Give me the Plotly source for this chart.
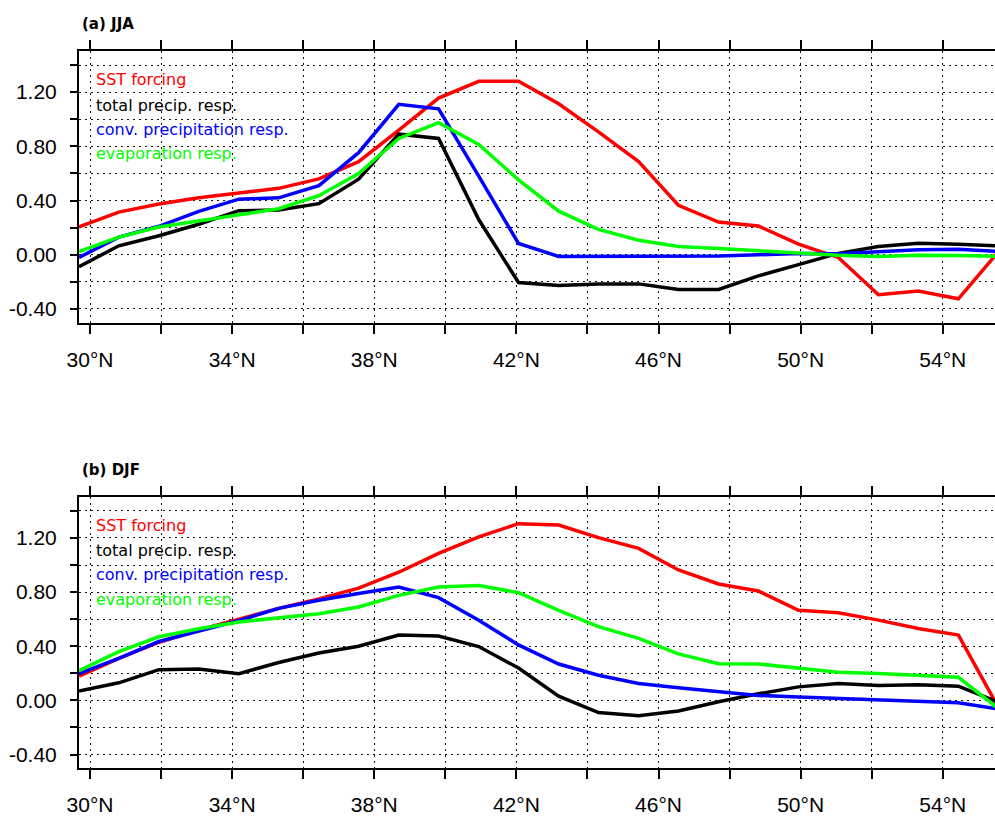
import plotly.graph_objects as go

# Latitude of each grid row (degrees north)
lat = [29.69, 30.81, 31.94, 33.06, 34.19, 35.31, 36.44, 37.56, 38.69, 39.81,
       40.94, 42.06, 43.19, 44.31, 45.44, 46.56, 47.69, 48.81, 49.94, 51.06,
       52.19, 53.31, 54.44, 55.56]

# (a) JJA
jja_sst = [0.205, 0.315, 0.375, 0.42, 0.455, 0.49, 0.56, 0.687, 0.92, 1.156,
           1.28, 1.28, 1.114, 0.907, 0.687, 0.365, 0.241, 0.212, 0.078, -0.02,
           -0.295, -0.268, -0.325, 0.02]
jja_total = [-0.088, 0.066, 0.14, 0.225, 0.325, 0.33, 0.377, 0.558, 0.89, 0.858,
             0.26, -0.205, -0.227, -0.215, -0.215, -0.256, -0.256, -0.156, -0.073, 0.01,
             0.061, 0.085, 0.078, 0.066]
jja_conv = [-0.02, 0.13, 0.21, 0.32, 0.41, 0.42, 0.51, 0.753, 1.11, 1.077,
            0.58, 0.083, -0.012, -0.012, -0.012, -0.01, -0.01, 0.0, 0.01, 0.007,
            0.024, 0.037, 0.041, 0.024]
jja_evap = [0.024, 0.13, 0.205, 0.25, 0.30, 0.34, 0.436, 0.60, 0.858, 0.975,
            0.814, 0.553, 0.322, 0.187, 0.107, 0.061, 0.046, 0.03, 0.015, -0.003,
            -0.012, -0.003, -0.005, -0.012]

# (b) DJF
djf_sst = [0.18, 0.31, 0.43, 0.52, 0.60, 0.68, 0.75, 0.83, 0.947, 1.086,
           1.208, 1.306, 1.296, 1.203, 1.123, 0.964, 0.86, 0.808, 0.666, 0.647,
           0.593, 0.532, 0.483, -0.05]
djf_total = [0.069, 0.13, 0.227, 0.232, 0.198, 0.28, 0.35, 0.40, 0.483, 0.476,
             0.398, 0.239, 0.032, -0.09, -0.114, -0.078, -0.01, 0.049, 0.10, 0.125,
             0.11, 0.115, 0.105, -0.012]
djf_conv = [0.198, 0.31, 0.435, 0.515, 0.59, 0.68, 0.74, 0.79, 0.837, 0.759,
            0.593, 0.41, 0.269, 0.186, 0.125, 0.093, 0.062, 0.037, 0.025, 0.015,
            0.003, -0.005, -0.017, -0.064]
djf_evap = [0.22, 0.36, 0.47, 0.53, 0.58, 0.61, 0.64, 0.69, 0.776, 0.837,
            0.849, 0.796, 0.666, 0.545, 0.459, 0.344, 0.271, 0.269, 0.239, 0.208,
            0.198, 0.183, 0.171, -0.06]

series_names = ["SST forcing", "total precip. resp.", "conv. precipitation resp.", "evaporation resp."]
series_colors = ["#ff0000", "#000000", "#0000ff", "#00ff00"]
panel_titles = ["(a) JJA", "(b) DJF"]

x_ticks = [30, 32, 34, 36, 38, 40, 42, 44, 46, 48, 50, 52, 54]
x_text = ["30°N", "", "34°N", "", "38°N", "", "42°N", "", "46°N", "", "50°N", "", "54°N"]
y_ticks = [-0.4, -0.2, 0.0, 0.2, 0.4, 0.6, 0.8, 1.0, 1.2, 1.4]
y_text = ["-0.40", "", "0.00", "", "0.40", "", "0.80", "", "1.20", ""]

W, H = 995, 816
fig = go.Figure()

panels = [
    ("x", "y", [jja_sst, jja_total, jja_conv, jja_evap]),
    ("x2", "y2", [djf_sst, djf_total, djf_conv, djf_evap]),
]
for xa, ya, data in panels:
    for name, col, vals in zip(series_names, series_colors, data):
        fig.add_trace(go.Scatter(x=lat, y=vals, mode="lines", name=name,
                                 line=dict(color=col, width=3.5),
                                 xaxis=xa, yaxis=ya, showlegend=False))

tick_font = dict(family="Liberation Sans, Arial, sans-serif", size=21, color="black")
common_x = dict(range=[29.69, 55.47], tickvals=x_ticks, ticktext=x_text,
                showline=True, linecolor="black", linewidth=2, mirror="ticks",
                ticks="outside", ticklen=9, tickwidth=2, tickcolor="black",
                showgrid=True, gridcolor="#111111", gridwidth=1.3, griddash="2px,4px",
                zeroline=False, tickfont=tick_font, ticklabelstandoff=8)
common_y = dict(range=[-0.5, 1.5], tickvals=y_ticks, ticktext=y_text,
                showline=True, linecolor="black", linewidth=2, mirror=False,
                ticks="outside", ticklen=7, tickwidth=2, tickcolor="black",
                showgrid=True, gridcolor="#111111", gridwidth=1.3, griddash="2px,4px",
                zeroline=False, tickfont=tick_font, ticklabelstandoff=9)

# panel vertical extents in pixels from the top
top_px = [(52, 325.7), (502.3, 775.7)]
dom = [[1 - b / H, 1 - t / H] for t, b in top_px]

fig.update_layout(
    width=W, height=H,
    margin=dict(l=79, r=0, t=0, b=0),
    paper_bgcolor="white", plot_bgcolor="white",
    xaxis=dict(common_x, domain=[0, 1], anchor="y"),
    yaxis=dict(common_y, domain=dom[0], anchor="x"),
    xaxis2=dict(common_x, domain=[0, 1], anchor="y2"),
    yaxis2=dict(common_y, domain=dom[1], anchor="x2"),
)

legend_y = [0.897, 0.802, 0.714, 0.624]
annotations = []
for i, (xa, ya) in enumerate([("x", "y"), ("x2", "y2")]):
    t, b = top_px[i]
    annotations.append(dict(text="<b>" + panel_titles[i] + "</b>", xref="paper", yref="paper",
                            x=0.001, y=1 - (t - 28) / H, xanchor="left", yanchor="middle",
                            showarrow=False,
                            font=dict(family="DejaVu Sans", size=15, color="black")))
    for name, col, yy in zip(series_names, series_colors, legend_y):
        annotations.append(dict(text=name, xref=xa + " domain", yref=ya + " domain",
                                x=0.0164, y=yy, xanchor="left", yanchor="middle",
                                showarrow=False,
                                font=dict(family="DejaVu Sans", size=16, color=col)))
fig.update_layout(annotations=annotations)

fig.write_html("out.html")
